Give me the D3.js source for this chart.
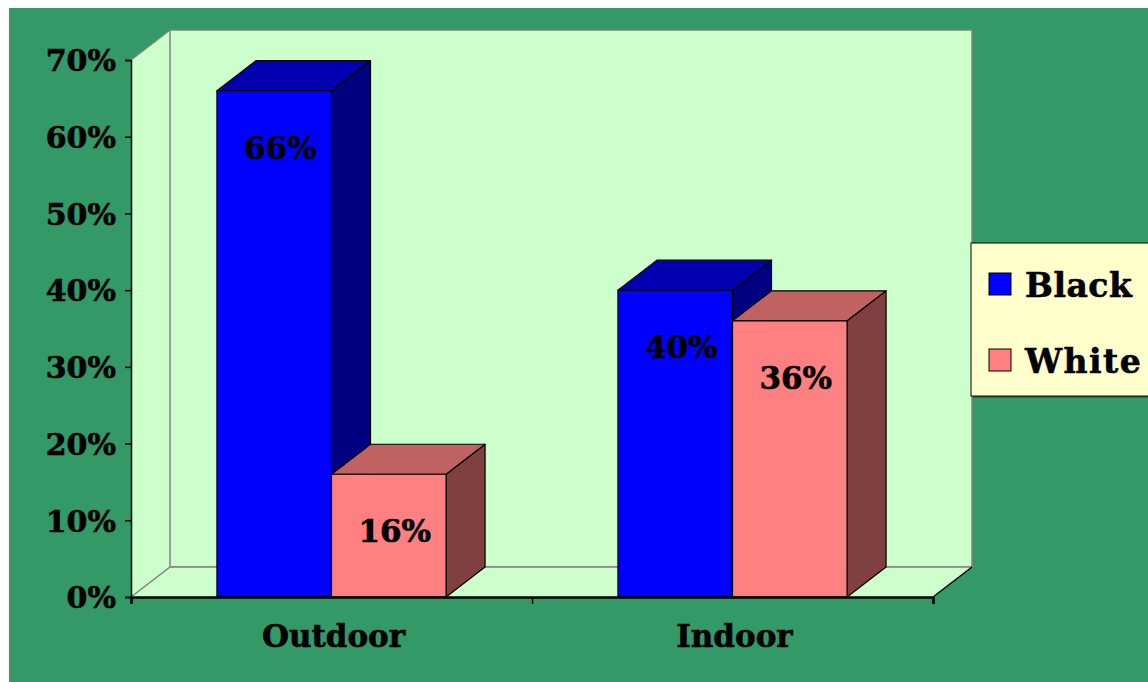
<!DOCTYPE html>
<html>
<head>
<meta charset="utf-8">
<script src="https://cdn.jsdelivr.net/npm/d3@7"></script>
<style>
  html, body { margin: 0; padding: 0; background: #ffffff; }
  svg { display: block; }
  text { font-family: "DejaVu Serif", serif; font-weight: bold; fill: #000; stroke: #000; stroke-width: 0.6px; }
</style>
</head>
<body>
<svg id="chart" width="1148" height="682"></svg>
<script>
// Share of cases by setting and group
const categories = ["Outdoor", "Indoor"];
const seriesNames = ["Black", "White"];
const blackValues = [0.66, 0.40];
const whiteValues = [0.16, 0.36];
const yTicks = [0, 0.1, 0.2, 0.3, 0.4, 0.5, 0.6, 0.7];

const colors = {
  Black: { front: "#0000ff", top: "#0000b0", side: "#000080" },
  White: { front: "#ff8080", top: "#c06262", side: "#804040" }
};

(function () {
const W = 1148, H = 682;
const svg = d3.select("#chart");

// Frame
svg.append("rect").attr("x", 0).attr("y", 0).attr("width", W).attr("height", H).attr("fill", "#ffffff");
svg.append("rect").attr("x", 9).attr("y", 8).attr("width", W - 9).attr("height", H - 8).attr("fill", "#339966");

// Plot geometry: front plane and depth offset
const plotL = 131, plotR = 933, plotB = 597, plotT = 60;
const dx = 39, dy = 30;

const y = d3.scaleLinear().domain([0, 0.7]).range([plotB, plotT]);
const x0 = d3.scaleBand().domain(categories).range([plotL, plotR]);
const x1 = d3.scaleBand().domain(seriesNames).range([0, x0.bandwidth()]).paddingOuter(0.75);

const pts = p => p.map(d => d.join(",")).join(" ");

// Walls
const g = svg.append("g");
g.append("polygon")
  .attr("points", pts([[plotL, y(0.7)], [plotL + dx, y(0.7) - dy], [plotL + dx, y(0) - dy], [plotL, y(0)]]))
  .attr("fill", "#ccffcc");
g.append("rect")
  .attr("x", plotL + dx).attr("y", y(0.7) - dy)
  .attr("width", plotR - plotL).attr("height", y(0) - y(0.7))
  .attr("fill", "#ccffcc").attr("stroke", "#808080").attr("stroke-width", 1.5);
g.append("polygon")
  .attr("points", pts([[plotL, y(0)], [plotL + dx, y(0) - dy], [plotR + dx, y(0) - dy], [plotR, y(0)]]))
  .attr("fill", "#ccffcc");
g.append("line").attr("x1", plotL).attr("y1", y(0.7)).attr("x2", plotL + dx).attr("y2", y(0.7) - dy)
  .attr("stroke", "#808080").attr("stroke-width", 1.5);
g.append("line").attr("x1", plotL).attr("y1", y(0)).attr("x2", plotL + dx).attr("y2", y(0) - dy)
  .attr("stroke", "#808080").attr("stroke-width", 1.5);
g.append("line").attr("x1", plotL + dx).attr("y1", y(0) - dy).attr("x2", plotR + dx).attr("y2", y(0) - dy)
  .attr("stroke", "#808080").attr("stroke-width", 1.5);
g.append("line").attr("x1", plotR).attr("y1", y(0)).attr("x2", plotR + dx).attr("y2", y(0) - dy)
  .attr("stroke", "#000").attr("stroke-width", 1.5);

// Bars
const rows = [];
categories.forEach((c, i) => {
  rows.push({ cat: c, series: "Black", value: blackValues[i] });
  rows.push({ cat: c, series: "White", value: whiteValues[i] });
});

const bars = svg.append("g");
rows.forEach(d => {
  const xa = x0(d.cat) + x1(d.series);
  const xb = xa + x1.bandwidth();
  const yt = y(d.value), yb = y(0);
  const c = colors[d.series];
  const bg = bars.append("g").attr("stroke", "#000").attr("stroke-width", 1.2).attr("stroke-linejoin", "round");
  bg.append("polygon").attr("points", pts([[xb, yt], [xb + dx, yt - dy], [xb + dx, yb - dy], [xb, yb]])).attr("fill", c.side);
  bg.append("polygon").attr("points", pts([[xa, yt], [xa + dx, yt - dy], [xb + dx, yt - dy], [xb, yt]])).attr("fill", c.top);
  bg.append("rect").attr("x", xa).attr("y", yt).attr("width", xb - xa).attr("height", yb - yt).attr("fill", c.front);
});

// Value labels
rows.forEach(d => {
  const xc = x0(d.cat) + x1(d.series) + x1.bandwidth() / 2;
  svg.append("text")
    .attr("x", xc + 6).attr("y", y(d.value) + 68)
    .attr("text-anchor", "middle").attr("font-size", 31)
    .text(Math.round(d.value * 100) + "%");
});

// Axes
const yAxis = d3.axisLeft(y).tickValues(yTicks).tickSize(6).tickPadding(9)
  .tickFormat(d => Math.round(d * 100) + "%");
const yg = svg.append("g").attr("transform", `translate(${plotL},0)`).call(yAxis);
yg.select(".domain").attr("stroke", "#000").attr("stroke-width", 1.5);
yg.selectAll(".tick line").attr("stroke", "#000").attr("stroke-width", 1.5);
yg.selectAll(".tick text").attr("font-size", 30).attr("font-family", "DejaVu Serif")
  .attr("font-weight", "bold").attr("fill", "#000").attr("dy", "0.36em");

const xEdge = d3.scaleLinear().domain([0, categories.length]).range([plotL, plotR]);
const xg = svg.append("g").attr("transform", `translate(0,${plotB})`)
  .call(d3.axisBottom(xEdge).tickValues(d3.range(categories.length + 1)).tickSize(7).tickFormat(""));
xg.select(".domain").attr("stroke", "#000").attr("stroke-width", 2.5);
xg.selectAll(".tick line").attr("stroke", "#000").attr("stroke-width", 1.5);

categories.forEach(c => {
  svg.append("text")
    .attr("x", x0(c) + x0.bandwidth() / 2 + 2).attr("y", 647)
    .attr("text-anchor", "middle").attr("font-size", 31)
    .text(c);
});

// Legend
const lg = svg.append("g").attr("transform", "translate(971,243)");
lg.append("rect").attr("x", 2).attr("y", 2).attr("width", 200).attr("height", 153).attr("fill", "#555");
lg.append("rect").attr("x", 0).attr("y", 0).attr("width", 200).attr("height", 153)
  .attr("fill", "#ffffcc").attr("stroke", "#000").attr("stroke-width", 1);
seriesNames.forEach((s, i) => {
  const yy = 30 + i * 76;
  lg.append("rect").attr("x", 18).attr("y", yy).attr("width", 22).attr("height", 22)
    .attr("fill", colors[s].front).attr("stroke", "#000").attr("stroke-width", 1);
  lg.append("text").attr("x", 54).attr("y", yy + 24).attr("font-size", 33)
    .attr("letter-spacing", i === 1 ? 1.5 : 0.5).text(s);
});
})();
</script>
</body>
</html>
